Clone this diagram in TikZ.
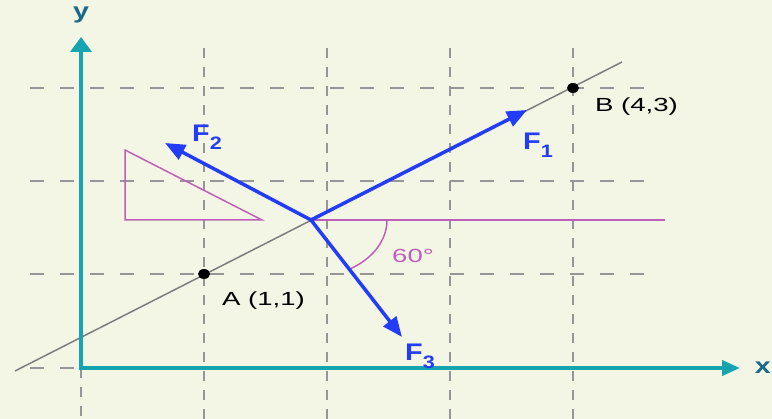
\documentclass[tikz,border=0pt]{standalone}
\usepackage{fontspec}
\setmainfont{Liberation Sans}
\usetikzlibrary{arrows.meta}
\definecolor{bg}{RGB}{243,246,228}
\definecolor{gridgray}{RGB}{150,150,150}
\definecolor{linegray}{RGB}{125,125,125}
\definecolor{axisteal}{RGB}{22,165,175}
\definecolor{axislabel}{RGB}{25,105,140}
\definecolor{forceblue}{RGB}{35,60,245}
\definecolor{anglemag}{RGB}{190,95,185}
\newcommand{\hstretch}[2]{\scalebox{#1}[1]{#2}}
\begin{document}
\begin{tikzpicture}[x=1pt,y=-1pt,
  gridh/.style={draw=gridgray,line width=1.4pt,dash pattern=on 14pt off 16pt},
  gridv/.style={draw=gridgray,line width=1.4pt,dash pattern=on 10pt off 9pt},
  thinline/.style={draw=linegray,line width=1.5pt},
  anglemark/.style={draw=anglemag,line width=1.5pt},
  axisline/.style={draw=axisteal,line width=4pt,line join=miter},
  force/.style={draw=forceblue,line width=3.5pt,-{Triangle[length=20pt,width=16pt]}},
  ptlabel/.style={inner sep=0pt,anchor=base west,font=\fontsize{19}{19}\selectfont,text=black},
  anglelabel/.style={inner sep=0pt,anchor=base west,font=\fontsize{19}{19}\selectfont,text=anglemag},
  flabel/.style={inner sep=0pt,anchor=base west,font=\fontsize{24}{24}\selectfont\bfseries,text=forceblue},
  axlabel/.style={inner sep=0pt,font=\fontsize{22}{22}\selectfont\bfseries,text=axislabel}]
\useasboundingbox (0,0) rectangle (772,419);
\clip (0,0) rectangle (772,419);
\fill[bg] (0,0) rectangle (772,419);
% grid
\foreach \yy in {88,181,274,368} \draw[gridh] (30,\yy) -- (655,\yy);
\draw[gridv] (81,368) -- (81,419);
\foreach \xx in {204,327,450,573} \draw[gridv] (\xx,48) -- (\xx,419);
% coordinates
\coordinate (L1) at (15,371);
\coordinate (L2) at (622,62);
\coordinate (O) at (311,220);
\coordinate (H) at (665,220);
\coordinate (T1) at (125,150);
\coordinate (T2) at (125,220);
\coordinate (T3) at (262,220);
\coordinate (A) at (204,274);
\coordinate (B) at (573,88);
\coordinate (Ytip) at (81,37);
\coordinate (Xtip) at (740,368);
\coordinate (F1tip) at (527,110);
\coordinate (F2tip) at (165,143);
\coordinate (F3tip) at (402,337);
% line through A and B
\draw[thinline] (L1) -- (L2);
% angle construction
\draw[anglemark] (O) -- (H);
\draw[anglemark] (T1) -- (T2) -- (T3) -- cycle;
\draw[anglemark] plot[domain=0:60,samples=40] ({311+76*cos(\x)},{220+57*sin(\x)});
% axes
\draw[axisline,{Triangle[length=15pt,width=21pt]}-{Triangle[length=18pt,width=15pt]}] (Ytip) |- (Xtip);
% forces
\draw[force] (O) -- (F1tip);
\draw[force] (O) -- (F2tip);
\draw[force] (O) -- (F3tip);
% points
\fill[black] (A) ellipse [x radius=6pt, y radius=5pt];
\fill[black] (B) ellipse [x radius=6pt, y radius=5pt];
% labels
\node[ptlabel] (Alab) at (222,306) {\hstretch{1.45}{A (1,1)}};
\node[ptlabel] (Blab) at (595,112) {\hstretch{1.45}{B (4,3)}};
\node[anglelabel] (ang) at (392,263) {\hstretch{1.45}{60°}};
\node[flabel] (F1lab) at (523,150) {\hstretch{1.2}{F\raisebox{-8pt}{\fontsize{18}{18}\selectfont 1}}};
\node[flabel] (F2lab) at (192,142) {\hstretch{1.2}{F\raisebox{-8pt}{\fontsize{18}{18}\selectfont 2}}};
\node[flabel] (F3lab) at (405,361) {\hstretch{1.2}{F\raisebox{-8pt}{\fontsize{18}{18}\selectfont 3}}};
\node[axlabel] (ylab) at (81,15) {\hstretch{1.3}{y}};
\node[axlabel,anchor=east] (xlab) at (771,368) {\hstretch{1.3}{x}};
\end{tikzpicture}
\end{document}
